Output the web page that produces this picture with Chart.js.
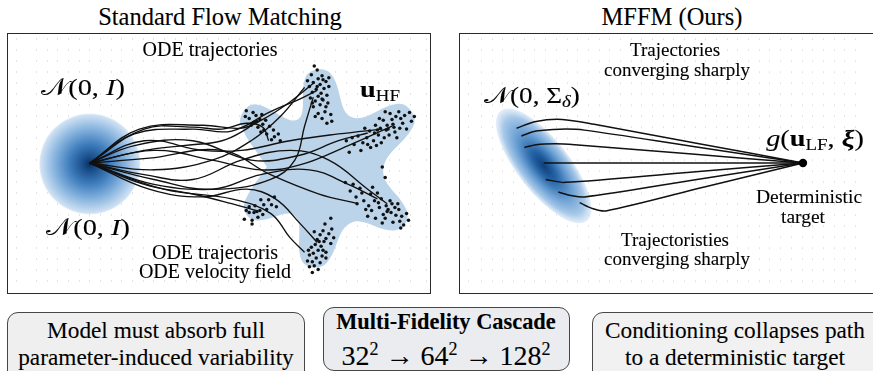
<!DOCTYPE html>
<html><head><meta charset="utf-8">
<script src="https://cdn.jsdelivr.net/npm/chart.js@4.4.1/dist/chart.umd.min.js"></script>
<style>
html,body{margin:0;padding:0;background:#fff;}
body{width:873px;height:371px;overflow:hidden;position:relative;font-family:"Liberation Serif","Times New Roman",serif;color:#000;}
.cv{position:absolute;top:34px;}
.frame{position:absolute;top:33px;height:261px;border:1.5px solid #2a2a2a;box-sizing:border-box;pointer-events:none;}
.t{position:absolute;white-space:nowrap;line-height:1;transform:translateX(-50%) scaleX(var(--sx,1));-webkit-text-stroke:0.1px #000;}
.box{position:absolute;border:1.3px solid #474747;border-radius:11px;box-sizing:border-box;}
.m{font-style:italic;}
.cal{font-family:"DejaVu Serif","Noto Sans","DejaVu Sans",serif;font-style:normal;}
</style></head>
<body>
<canvas id="left" class="cv" width="422" height="259" style="left:8px;width:422px;height:259px"></canvas>
<canvas id="right" class="cv" width="420" height="259" style="left:460px;width:420px;height:259px"></canvas>
<div class="frame" style="left:7px;width:424px"></div>
<div class="frame" style="left:459px;width:430px"></div>

<div class="t" style="left:220px;top:5px;font-size:24.5px">Standard Flow Matching</div>
<div class="t" style="left:672px;top:5px;font-size:24.5px">MFFM (Ours)</div>

<div class="t" style="left:210px;top:38.5px;font-size:20px">ODE trajectories</div>
<div class="t" style="left:83px;top:75px;font-size:24px;--sx:1.18"><span class="cal">𝒩</span>(0, <span class="m">I</span>)</div>
<div class="t" style="left:380px;top:77px;font-size:24px;--sx:1.18"><b>u</b><span style="font-size:16px;position:relative;top:4px">HF</span></div>
<div class="t" style="left:88px;top:215px;font-size:24px;--sx:1.18"><span class="cal">𝒩</span>(0, <span class="m">I</span>)</div>
<div class="t" style="left:215px;top:242px;font-size:20px">ODE trajectoris</div>
<div class="t" style="left:215px;top:261px;font-size:20px">ODE velocity field</div>

<div class="t" style="left:675px;top:39.5px;font-size:19px">Trajectories</div>
<div class="t" style="left:677px;top:60px;font-size:19px">converging sharply</div>
<div class="t" style="left:532px;top:84px;font-size:23px;--sx:1.18"><span class="cal">𝒩</span>(0, Σ<span class="m" style="font-size:16px;position:relative;top:4px">δ</span>)</div>
<div class="t" style="left:815px;top:126px;font-size:24px;--sx:1.18"><span class="m">g</span>(<b>u</b><span style="font-size:16px;position:relative;top:4px">LF</span>, <b class="m">ξ</b>)</div>
<div class="t" style="left:809px;top:187px;font-size:19.5px">Deterministic</div>
<div class="t" style="left:803px;top:207px;font-size:19.5px">target</div>
<div class="t" style="left:675px;top:229.5px;font-size:19px">Trajectoristies</div>
<div class="t" style="left:677px;top:249px;font-size:19px">converging sharply</div>

<div class="box" style="left:7px;top:312px;width:298px;height:80px;background:#efefef"></div>
<div class="box" style="left:323px;top:307px;width:247px;height:64px;background:#eaecf0"></div>
<div class="box" style="left:592px;top:312px;width:300px;height:80px;background:#f1f1f1"></div>
<div class="t" style="left:156px;top:318px;font-size:24px;--sx:0.97">Model must absorb full</div>
<div class="t" style="left:156px;top:344.5px;font-size:24px;--sx:0.97">parameter-induced variability</div>
<div class="t" style="left:446px;top:311px;font-size:22.4px;font-weight:bold">Multi-Fidelity Cascade</div>
<div class="t" style="left:446px;top:340px;font-size:28px">32<sup style="font-size:18px;vertical-align:10px">2</sup> → 64<sup style="font-size:18px;vertical-align:10px">2</sup> → 128<sup style="font-size:18px;vertical-align:10px">2</sup></div>
<div class="t" style="left:735px;top:318px;font-size:24px;--sx:0.97">Conditioning collapses path</div>
<div class="t" style="left:735px;top:344.5px;font-size:24px;--sx:0.97">to a deterministic target</div>

<script>
// ---------- data (left panel: origin at the source Gaussian) ----------
const starOutline = [[18.21,-0.38],[15.58,3.79],[15.8,5.32],[17.16,6.05],[21.4,4.5],[22.2,8.85],[23.49,9.66],[24.91,9.09],[26.94,4.74],[31.71,6.12],[33.08,5.38],[33.31,3.84],[30.2,-0.7],[32.6,-4.88],[32.43,-6.32],[31.13,-6.97],[26.84,-6.18],[24.4,-10.3],[22.98,-10.8],[21.75,-9.93],[21.07,-5.45],[17.2,-5.93],[16.01,-5.16],[16.04,-3.74],[18.21,-0.38]];
const clusterTop = [[23.4,9.6],[23.9,9.0],[22.8,9.1],[23.5,8.7],[24.3,8.4],[23.0,8.3],[23.7,8.1],[22.6,7.9],[24.1,7.7],[23.3,7.6],[24.6,7.9],[22.9,7.3],[23.8,7.2],[24.4,7.0],[23.5,6.9],[22.7,6.7],[23.2,6.4],[24.0,6.5],[23.7,6.0],[24.5,6.2],[23.0,5.8],[24.2,5.3],[23.5,5.1],[24.8,5.0],[23.9,4.6],[24.4,4.1],[23.2,4.8],[24.9,4.3],[22.4,8.5],[24.6,8.8],[23.1,10.0],[24.0,8.6],[23.4,7.9],[23.9,6.6],[22.9,6.2],[24.3,5.8]];
const clusterUpperLeft = [[16.1,5.4],[16.8,5.2],[16.4,4.6],[17.1,4.9],[16.9,4.2],[17.5,4.5],[17.8,4.0],[17.3,3.7],[18.1,4.4],[17.9,3.4],[18.5,3.8],[18.2,3.0],[18.9,3.4],[17.6,3.2],[19.0,2.7],[19.4,3.0],[16.6,3.9],[17.7,5.0],[19.6,2.3],[18.7,2.4],[16.0,4.8],[17.2,4.3]];
const clusterRight = [[32.9,5.2],[32.4,4.9],[33.1,4.3],[31.8,5.3],[32.2,4.1],[31.5,4.8],[31.9,3.6],[31.1,4.5],[30.9,5.1],[31.4,3.2],[30.6,3.9],[30.2,4.4],[30.8,2.9],[29.9,3.6],[30.3,2.6],[29.4,3.9],[29.7,2.9],[29.2,2.3],[28.8,3.3],[29.5,1.8],[28.5,2.6],[28.9,1.6],[28.1,2.1],[27.6,2.8],[27.9,1.3],[27.2,1.9],[26.7,1.1],[26.4,2.3],[30.5,3.4],[31.2,4.0],[29.8,4.6],[30.0,2.1],[32.6,3.5],[28.3,3.6],[31.6,2.6],[30.4,5.3],[27.0,2.6],[29.3,3.1],[33.4,4.8],[28.6,1.9],[31.3,3.7],[30.7,3.5],[29.6,3.4],[32.0,4.6]];
const clusterLowerRight = [[26.3,-2.0],[26.8,-2.9],[27.1,-2.2],[27.4,-3.5],[27.8,-2.6],[28.2,-3.9],[28.0,-3.1],[28.7,-4.4],[28.9,-3.2],[29.3,-3.9],[29.0,-4.9],[29.6,-3.1],[29.8,-4.6],[30.2,-5.3],[30.0,-3.7],[30.5,-4.4],[30.4,-5.7],[30.9,-3.9],[31.0,-5.1],[31.2,-6.1],[31.4,-4.6],[31.5,-5.4],[31.9,-6.0],[31.8,-4.8],[32.1,-5.5],[32.3,-6.4],[32.6,-5.2],[32.0,-6.7],[29.4,-5.7],[28.4,-4.8],[30.7,-4.8],[27.5,-4.2],[32.8,-5.9],[29.1,-2.5],[30.4,-1.5],[30.1,-0.4],[31.7,-4.2],[30.1,-6.2],[28.6,-5.5],[29.7,-4.1],[31.1,-4.2],[30.6,-5.0]];
const clusterBottom = [[24.8,-5.7],[24.2,-6.3],[24.9,-6.8],[24.0,-7.0],[24.6,-7.3],[23.7,-7.4],[24.3,-7.8],[23.4,-7.9],[24.1,-8.1],[24.8,-8.3],[23.2,-8.4],[23.8,-8.6],[22.8,-8.7],[23.5,-9.0],[24.3,-9.2],[23.0,-9.3],[23.9,-9.6],[22.6,-9.5],[23.3,-9.8],[22.9,-10.2],[23.7,-10.3],[23.1,-10.6],[22.6,-10.7],[23.5,-11.0],[22.9,-11.3],[24.3,-9.8],[22.5,-9.0],[25.1,-7.7],[23.1,-7.1],[22.4,-10.1],[23.6,-8.1],[24.0,-9.0]];
const clusterLowerLeft = [[15.9,-5.8],[16.4,-5.1],[16.7,-5.9],[16.4,-4.5],[16.9,-5.1],[17.3,-5.6],[17.0,-4.4],[17.5,-4.9],[17.8,-5.3],[17.9,-4.3],[18.2,-4.8],[18.4,-3.8],[18.7,-4.3],[19.0,-3.5],[16.1,-4.9],[17.6,-3.8],[16.7,-6.3],[19.2,-4.5],[17.2,-5.0]];
const leftTrajectories = [
  [[0,0],[4.6,3.0],[10.6,3.5],[14.6,3.3],[18.6,5.3],[21.6,6.6],[23.4,7.5]],
  [[0,0],[5.1,3.5],[11.6,3.9],[15.6,3.6],[17.8,4.5],[20.6,6.3],[23.1,8.3]],
  [[0,0],[5.6,3.5],[10.6,3.7],[13.6,3.5],[16.1,4.1],[17.8,3.7],[18.4,2.3]],
  [[0,0],[5.6,2.3],[11.6,1.3],[15.6,1.3],[20.6,2.3],[25.6,3.0],[30.1,3.5]],
  [[0,0],[6.6,1.3],[12.6,0.3],[17.6,-0.7],[21.6,-0.2],[26.6,1.8],[31.1,3.8]],
  [[0,0],[5.6,-1.2],[10.6,-1.7],[15.6,0.3],[20.6,1.3],[24.6,0.3],[28.6,-2.7],[30.6,-4.2]],
  [[0,0],[6.6,-1.7],[12.6,-2.7],[17.6,-1.2],[22.6,-0.7],[26.6,-2.2],[29.6,-3.7]],
  [[0,0],[5.6,-2.2],[10.6,-3.2],[14.6,-4.2],[17.1,-4.9]],
  [[0,0],[6.1,-2.7],[11.6,-3.5],[16.1,-2.7],[19.1,-3.7],[21.6,-6.2],[23.4,-8.2]],
  [[0,0],[6.6,-0.7],[12.6,0.3],[16.6,2.3],[19.6,4.8],[22.1,7.8]],
  [[0,0],[4.6,1.8],[10.6,2.3],[16.6,0.3],[21.6,0.8],[25.6,2.3],[28.6,3.1]],
  [[0,0],[6.1,0.5],[13.6,1.3],[18.6,-1.2],[23.6,-3.2],[27.6,-4.2]],
  [[0,0],[5.6,1.3],[9.6,1.8],[13.6,2.3],[16.1,3.5],[17.1,4.3]],
  [[0,0],[7.6,-2.7],[14.6,-3.7],[18.6,-5.2],[20.6,-7.7],[22.1,-9.2]],
  [[0,0],[6.6,-2.2],[13.6,-2.7],[18.6,-1.7],[21.1,0.3],[22.1,3.8],[23.0,6.8]]
];
// ---------- data (right panel: origin at the narrow Gaussian) ----------
const targetPoint = [[26.5,0]];
const rightTrajectories = [
  [[-3.0,3.6],[-1.0,4.3],[1.7,4.5],[5.0,4.0],[15.8,2.0],[26.5,0]],
  [[-2.5,2.8],[-1.0,3.3],[1.5,3.5],[4.0,3.4],[15.2,1.7],[26.5,0]],
  [[-2.2,1.6],[-1.0,1.9],[1.0,2.0],[3.0,1.9],[14.75,0.95],[26.5,0]],
  [[-0.2,0],[13.0,0],[26.5,0]],
  [[0,-1.7],[2.0,-2.0],[14.25,-1.0],[26.5,0]],
  [[1.3,-3.0],[2.6,-3.35],[4.0,-3.5],[15.25,-1.75],[26.5,0]],
  [[3.5,-4.1],[4.8,-4.7],[6.2,-4.95],[16.35,-2.475],[26.5,0]]
];

const pts = a => a.map(([x,y]) => ({x,y}));

const blobPlugin = {
  id: 'blobs',
  beforeDatasetsDraw(chart, args, opts) {
    const {ctx, scales:{x, y}, chartArea:ca} = chart;
    (opts.items || []).forEach(b => {
      const cx = x.getPixelForValue(b.x), cy = y.getPixelForValue(b.y);
      const rx = Math.abs(x.getPixelForValue(b.x + b.rx) - cx);
      const ry = Math.abs(y.getPixelForValue(b.y + b.ry) - cy);
      ctx.save();
      ctx.beginPath(); ctx.rect(ca.left, ca.top, ca.right-ca.left, ca.bottom-ca.top); ctx.clip();
      ctx.translate(cx, cy); ctx.rotate(b.angle * Math.PI / 180); ctx.scale(rx, ry);
      const g = ctx.createRadialGradient(0,0,0,0,0,1);
      b.stops.forEach(([o,c]) => g.addColorStop(o,c));
      ctx.fillStyle = g; ctx.beginPath(); ctx.arc(0,0,1,0,Math.PI*2); ctx.fill();
      ctx.restore();
    });
  }
};

function scales(xmin, xmax, ymin, ymax) {
  const ax = (min, max) => ({
    type:'linear', min, max, display:true,
    ticks:{display:false, stepSize:1.1, maxTicksLimit:200},
    grid:{color:'rgba(0,0,0,0.11)', lineWidth:1, drawTicks:false},
    border:{display:false, dash:[2,9]}
  });
  const xs = ax(xmin, xmax);
  const ys = ax(ymin, ymax); ys.grid = {display:false};
  return {x:xs, y:ys};
}
const lineDs = t => ({data:pts(t), showLine:true, borderColor:'#111', borderWidth:1.35, pointRadius:0, tension:0.4, fill:false, order:2});
const dotDs = c => ({data:pts(c), showLine:false, pointRadius:1.75, pointBackgroundColor:'#111', pointBorderWidth:0, order:1});
const common = {responsive:false, animation:false, devicePixelRatio:1, layout:{padding:0}, events:[]};

new Chart(document.getElementById('left'), {
  type:'scatter',
  data:{datasets:[
    {data:pts(starOutline), showLine:true, borderWidth:0, borderColor:'rgba(0,0,0,0)', backgroundColor:'rgb(188,212,234)', fill:'shape', pointRadius:0, tension:0.4, order:3},
    ...leftTrajectories.map(lineDs),
    ...[clusterTop, clusterUpperLeft, clusterRight, clusterLowerRight, clusterBottom, clusterLowerLeft].map(dotDs)
  ]},
  options:{...common, scales:scales(-7.6, 34.6, -13, 12.9),
    plugins:{legend:{display:false}, tooltip:{enabled:false},
      blobs:{items:[{x:0, y:-0.1, rx:5.2, ry:5.2, angle:0,
        stops:[[0,'#0a2f5c'],[0.12,'#174b86'],[0.4,'#3f7dbd'],[0.7,'#86b3de'],[0.97,'#cfe1f3'],[1,'rgba(215,230,245,0.6)']]}]}}},
  plugins:[blobPlugin]
});

new Chart(document.getElementById('right'), {
  type:'scatter',
  data:{datasets:[
    ...rightTrajectories.map(t => ({...lineDs(t), tension:0.3, borderWidth:1.5})),
    {data:pts(targetPoint), pointRadius:4.2, pointBackgroundColor:'#000', pointBorderWidth:0, order:0}
  ]},
  options:{...common, scales:scales(-8, 34, -13, 12.9),
    plugins:{legend:{display:false}, tooltip:{enabled:false},
      blobs:{items:[{x:-0.2, y:-0.3, rx:7.2, ry:2.7, angle:52,
        stops:[[0,'#103f78'],[0.25,'#2463a6'],[0.6,'#6fa3d6'],[0.85,'#a9c9e8'],[1,'rgba(195,218,241,0.45)']]}]}}},
  plugins:[blobPlugin]
});
</script>
</body></html>
